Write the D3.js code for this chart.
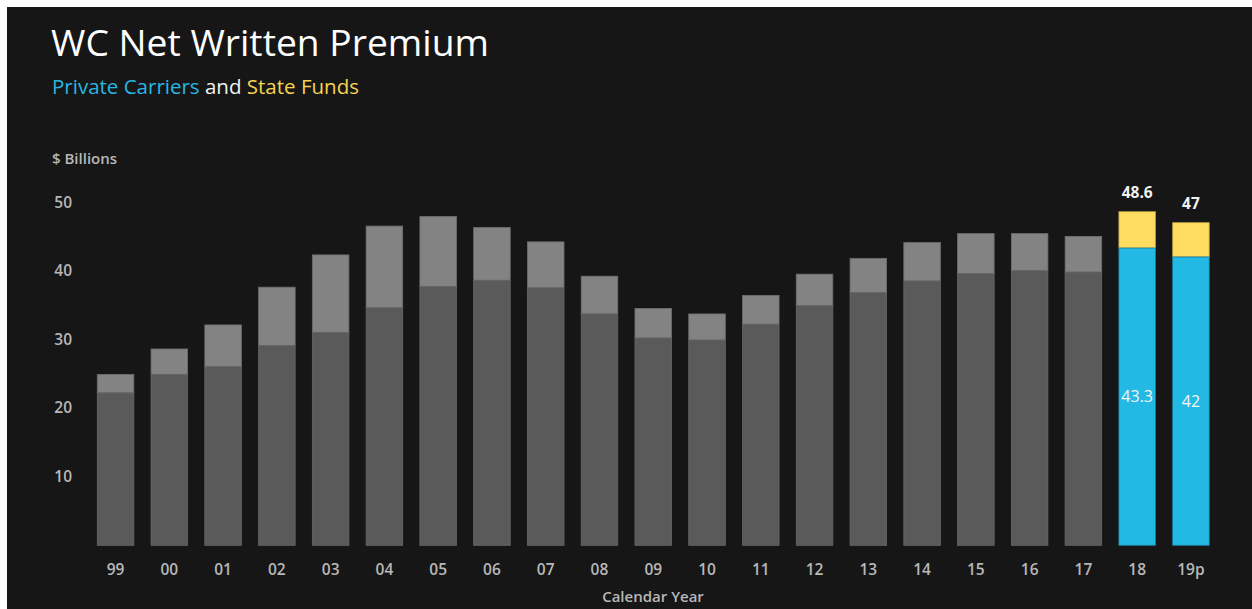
<!DOCTYPE html>
<html>
<head>
<meta charset="utf-8">
<script src="https://cdn.jsdelivr.net/npm/d3@7"></script>
<style>
  html, body { margin: 0; padding: 0; background: #ffffff; }
  svg { display: block; }
  text { font-family: "Open Sans", "Noto Sans", sans-serif; }
</style>
</head>
<body>
<svg id="chart" width="1252" height="609"></svg>
<script>
// Workers' comp net written premium, $ billions
const years = ["99","00","01","02","03","04","05","06","07","08","09","10","11","12","13","14","15","16","17","18","19p"];
const privateCarriers = [22.2,24.9,26.0,29.1,31.0,34.6,37.7,38.6,37.5,33.7,30.2,29.9,32.2,34.9,36.8,38.5,39.6,40.0,39.8,43.3,42];
const totalPremium   = [24.9,28.6,32.1,37.6,42.3,46.5,47.9,46.3,44.2,39.2,34.5,33.7,36.4,39.5,41.8,44.1,45.4,45.4,45.0,48.6,47];
const yTicks = [10, 20, 30, 40, 50];
const highlighted = ["18", "19p"];

const colors = {
  bg: "#161616",
  privateGray: "#5a5a5a",
  stateGray: "#838383",
  privateBlue: "#22b9e4",
  stateYellow: "#fedc5f",
  axisText: "#b8b8b8"
};

const svg = d3.select("#chart");

// dark panel
svg.append("rect")
  .attr("x", 7).attr("y", 7)
  .attr("width", 1252 - 7).attr("height", 609 - 7)
  .attr("fill", colors.bg);

const x = d3.scaleBand()
  .domain(years)
  .range([70.4, 1236.1])
  .paddingInner(0.32)
  .paddingOuter(0.5);

const y = d3.scaleLinear()
  .domain([0, 50])
  .range([545.3, 202.05]);

const rows = years.map((yr, i) => ({
  year: yr,
  priv: privateCarriers[i],
  total: totalPremium[i],
  hi: highlighted.includes(yr)
}));

const bars = svg.append("g").selectAll("g").data(rows).join("g");

// state funds segment (private top to total)
bars.append("rect")
  .attr("x", d => x(d.year))
  .attr("width", x.bandwidth())
  .attr("y", d => y(d.total))
  .attr("height", d => y(d.priv) - y(d.total))
  .attr("fill", d => d.hi ? colors.stateYellow : colors.stateGray)
  .attr("stroke", d => d.hi ? "#b59c45" : "#6e6e6e")
  .attr("stroke-width", 0.8);

// private carriers segment
bars.append("rect")
  .attr("x", d => x(d.year))
  .attr("width", x.bandwidth())
  .attr("y", d => y(d.priv))
  .attr("height", d => y(0) - y(d.priv))
  .attr("fill", d => d.hi ? colors.privateBlue : colors.privateGray)
  .attr("stroke", d => d.hi ? "#1e7e9e" : "#686868")
  .attr("stroke-width", 0.8);

// value labels on highlighted bars
const hiRows = rows.filter(d => d.hi);
svg.append("g").selectAll("text").data(hiRows).join("text")
  .attr("x", d => x(d.year) + x.bandwidth() / 2)
  .attr("y", d => y(d.total) - 14)
  .attr("text-anchor", "middle")
  .attr("fill", "#f2f2f2")
  .attr("font-size", 15.5)
  .attr("font-weight", 700)
  .text(d => d.total);

svg.append("g").selectAll("text").data(hiRows).join("text")
  .attr("x", d => x(d.year) + x.bandwidth() / 2)
  .attr("y", d => (y(d.priv) + y(0)) / 2)
  .attr("dy", "0.35em")
  .attr("text-anchor", "middle")
  .attr("fill", "#f6f6f6")
  .attr("font-size", 16)
  .attr("font-weight", 500)
  .text(d => d.priv);

// y axis
const yAxis = svg.append("g")
  .attr("transform", "translate(72,0)")
  .call(d3.axisLeft(y).tickValues(yTicks).tickSize(0).tickPadding(0).tickFormat(d3.format("d")));
yAxis.select(".domain").remove();
yAxis.selectAll("text")
  .attr("fill", colors.axisText)
  .attr("font-size", 15.5)
  .attr("font-weight", 600)
  .style("font-family", "'Open Sans', sans-serif");

// x axis
const xAxis = svg.append("g")
  .attr("transform", "translate(0,564)")
  .call(d3.axisBottom(x).tickSize(0).tickPadding(0));
xAxis.select(".domain").remove();
xAxis.selectAll("text")
  .attr("fill", colors.axisText)
  .attr("font-size", 15.5)
  .attr("font-weight", 600)
  .style("font-family", "'Open Sans', sans-serif");

// axis titles
svg.append("text")
  .attr("x", 52).attr("y", 164)
  .attr("fill", colors.axisText)
  .attr("font-size", 15)
  .attr("font-weight", 600)
  .text("$ Billions");

svg.append("text")
  .attr("x", 653).attr("y", 602)
  .attr("text-anchor", "middle")
  .attr("fill", colors.axisText)
  .attr("font-size", 15)
  .attr("font-weight", 600)
  .text("Calendar Year");

// title and subtitle
svg.append("text")
  .attr("x", 51).attr("y", 56)
  .attr("fill", "#ffffff")
  .attr("font-size", 37)
  .attr("textLength", 438)
  .attr("lengthAdjust", "spacingAndGlyphs")
  .text("WC Net Written Premium");

const sub = svg.append("text")
  .attr("x", 52).attr("y", 94)
  .attr("font-size", 19.5)
  .attr("font-weight", 500)
  .attr("textLength", 307)
  .attr("lengthAdjust", "spacingAndGlyphs");
sub.append("tspan").attr("fill", "#29b6e2").text("Private Carriers");
sub.append("tspan").attr("fill", "#f2f2f2").text(" and ");
sub.append("tspan").attr("fill", "#f6d451").text("State Funds");
</script>
</body>
</html>
